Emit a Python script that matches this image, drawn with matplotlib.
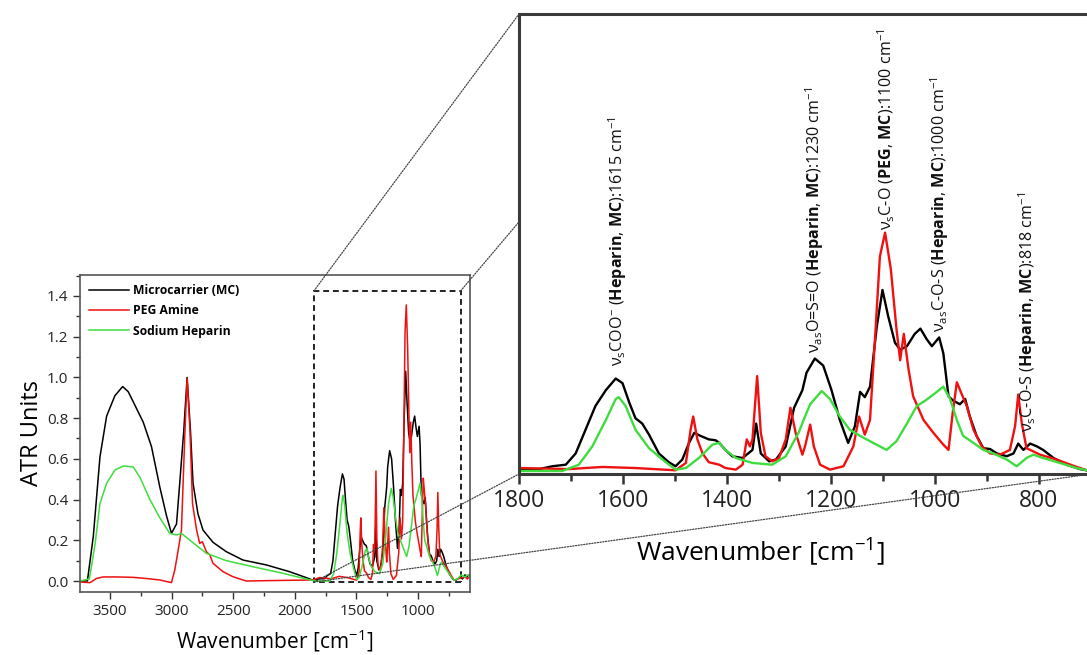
import numpy as np
import matplotlib
matplotlib.use("Agg")
import matplotlib.pyplot as plt
from matplotlib.patches import Rectangle, ConnectionPatch
from matplotlib.ticker import MultipleLocator, FormatStrFormatter

plt.rcParams['font.family'] = ['Open Sans', 'DejaVu Sans']
plt.rcParams['mathtext.fontset'] = 'custom'
plt.rcParams['mathtext.rm'] = 'Open Sans'
plt.rcParams['mathtext.bf'] = 'Open Sans:bold'
plt.rcParams['mathtext.it'] = 'Open Sans:italic'
plt.rcParams['mathtext.default'] = 'regular'

# Microcarrier (MC) spectrum
mc_wn = [3745, 3683, 3635, 3581, 3527, 3460, 3397, 3352, 3311, 3230, 3163, 3095, 3041, 3001,
         2960, 2934, 2901, 2874, 2847, 2826, 2786, 2745, 2664, 2556, 2421, 2232, 2044, 1900,
         1850, 1800, 1761, 1736, 1710, 1691, 1672, 1653, 1633, 1614, 1601, 1588, 1576, 1563,
         1550, 1531, 1512, 1499, 1486, 1473, 1463, 1451, 1435, 1422, 1415, 1403, 1390, 1370,
         1351, 1344, 1335, 1319, 1306, 1287, 1271, 1255, 1247, 1231, 1215, 1199, 1183, 1167,
         1154, 1144, 1135, 1125, 1112, 1101, 1090, 1077, 1067, 1054, 1039, 1028, 1016, 1006,
         992, 984, 974, 965, 952, 942, 933, 920, 907, 894, 881, 862, 849, 840, 830, 817, 804,
         792, 772, 747, 721, 708, 690, 660, 640, 620, 600, 585]
mc_abs = [0.0, 0.0, 0.22, 0.61, 0.81, 0.91, 0.955, 0.93, 0.88, 0.78, 0.66, 0.46, 0.32, 0.234,
          0.28, 0.48, 0.74, 1.0, 0.74, 0.48, 0.33, 0.25, 0.19, 0.144, 0.103, 0.079, 0.046, 0.015,
          0.003, 0.011, 0.011, 0.027, 0.036, 0.10, 0.235, 0.37, 0.46, 0.526, 0.50, 0.39, 0.30, 0.27,
          0.207, 0.10, 0.05, 0.027, 0.065, 0.16, 0.217, 0.20, 0.18, 0.175, 0.16, 0.12, 0.084, 0.074,
          0.12, 0.27, 0.10, 0.055, 0.065, 0.14, 0.36, 0.46, 0.56, 0.64, 0.60, 0.46, 0.29, 0.16,
          0.255, 0.45, 0.42, 0.48, 0.82, 1.03, 0.88, 0.73, 0.69, 0.71, 0.78, 0.81, 0.75, 0.71,
          0.76, 0.67, 0.425, 0.40, 0.38, 0.41, 0.31, 0.20, 0.13, 0.125, 0.10, 0.084, 0.10, 0.156,
          0.12, 0.156, 0.14, 0.12, 0.074, 0.036, 0.011, 0.004, 0.005, 0.02, 0.01, 0.03, 0.02, 0.03]

# PEG Amine spectrum
peg_wn = [3745, 3662, 3608, 3554, 3450, 3311, 3200, 3095, 3001, 2974, 2947, 2920, 2893, 2874,
          2851, 2830, 2797, 2772, 2750, 2718, 2690, 2664, 2583, 2502, 2394, 2100, 1855, 1800,
          1704, 1640, 1576, 1499, 1479, 1470, 1465, 1457, 1447, 1435, 1415, 1403, 1383, 1370,
          1362, 1356, 1351, 1342, 1335, 1326, 1313, 1300, 1287, 1278, 1268, 1255, 1250, 1240,
          1233, 1221, 1202, 1176, 1157, 1146, 1135, 1125, 1115, 1106, 1096, 1085, 1074, 1067,
          1060, 1051, 1042, 1022, 1003, 984, 974, 966, 958, 949, 939, 926, 910, 894, 875, 856,
          846, 840, 833, 824, 798, 766, 734, 708, 680, 650, 620, 600, 585]
peg_abs = [-0.005, -0.008, 0.013, 0.02, 0.02, 0.018, 0.012, 0.005, -0.008, 0.054, 0.15, 0.25,
           0.71, 0.995, 0.74, 0.38, 0.25, 0.185, 0.193, 0.144, 0.128, 0.087, 0.046, 0.021, 0.0,
           0.003, 0.005, 0.017, 0.011, 0.023, 0.017, 0.004, 0.046, 0.235, 0.31, 0.18, 0.10, 0.05,
           0.036, 0.017, 0.008, 0.036, 0.18, 0.14, 0.18, 0.54, 0.217, 0.084, 0.055, 0.074, 0.18,
           0.36, 0.217, 0.093, 0.14, 0.264, 0.14, 0.036, 0.008, 0.027, 0.14, 0.31, 0.207, 0.29,
           0.77, 1.22, 1.356, 1.15, 0.805, 0.63, 0.78, 0.58, 0.425, 0.29, 0.217, 0.15, 0.12, 0.33,
           0.505, 0.44, 0.37, 0.235, 0.14, 0.10, 0.093, 0.12, 0.255, 0.435, 0.27, 0.13, 0.093,
           0.065, 0.03, 0.004, 0.01, 0.015, 0.02, 0.01, 0.02]

# Sodium Heparin spectrum
hep_wn = [3745, 3667, 3621, 3581, 3527, 3460, 3392, 3311, 3257, 3176, 3095, 3015, 2960, 2920,
          2851, 2718, 2556, 2340, 2098, 1855, 1800, 1717, 1685, 1659, 1633, 1614, 1608, 1595,
          1576, 1550, 1524, 1499, 1479, 1454, 1428, 1415, 1403, 1383, 1351, 1313, 1287, 1262,
          1250, 1240, 1218, 1202, 1183, 1164, 1144, 1119, 1093, 1074, 1054, 1035, 1019, 1003,
          984, 971, 958, 946, 926, 907, 888, 862, 843, 824, 811, 792, 760, 728, 708, 680, 650,
          620, 600, 585]
hep_abs = [0.0, 0.01, 0.18, 0.38, 0.48, 0.545, 0.565, 0.56, 0.51, 0.40, 0.31, 0.234, 0.226,
           0.234, 0.20, 0.136, 0.10, 0.07, 0.038, 0.002, 0.0, 0.0, 0.036, 0.14, 0.29, 0.41, 0.42,
           0.37, 0.235, 0.13, 0.065, 0.008, 0.017, 0.074, 0.15, 0.16, 0.12, 0.074, 0.046, 0.036,
           0.084, 0.22, 0.31, 0.38, 0.455, 0.41, 0.31, 0.235, 0.20, 0.16, 0.12, 0.17, 0.27, 0.37,
           0.40, 0.435, 0.48, 0.41, 0.29, 0.20, 0.16, 0.12, 0.10, 0.065, 0.027, 0.074, 0.093,
           0.074, 0.046, 0.017, 0.004, 0.01, 0.03, 0.02, 0.03, 0.02]

series_names = ["Microcarrier (MC)", "PEG Amine", "Sodium Heparin"]
series_colors = ["#000000", "#f01010", "#3fdc3f"]

# peak annotations in the zoomed panel: (text, wavenumber, height)
notes = [
    (r"$\nu_{s}$COO$^{-}$ ($\mathbf{Heparin}$, $\mathbf{MC}$):1615 cm$^{-1}$", 1611, 0.60),
    (r"$\nu_{as}$O=S=O ($\mathbf{Heparin}$, $\mathbf{MC}$):1230 cm$^{-1}$", 1231, 0.67),
    (r"$\nu_{s}$C-O ($\mathbf{PEG}$, $\mathbf{MC}$):1100 cm$^{-1}$", 1094, 1.37),
    (r"$\nu_{as}$C-O-S ($\mathbf{Heparin}$, $\mathbf{MC}$):1000 cm$^{-1}$", 992, 0.79),
    (r"$\nu_{s}$C-O-S ($\mathbf{Heparin}$, $\mathbf{MC}$):818 cm$^{-1}$", 821, 0.22),
]

fig = plt.figure(figsize=(10.87, 6.55), dpi=100)
W, H = 1087, 655
ax = fig.add_axes([80 / W, (H - 592) / H, 390 / W, 317 / H])
axz = fig.add_axes([519 / W, (H - 474) / H, 572 / W, 460 / H])

data = [(mc_wn, mc_abs), (peg_wn, peg_abs), (hep_wn, hep_abs)]

# overview panel
for (wn, ab), name, col in zip(data, series_names, series_colors):
    ax.plot(wn, ab, color=col, lw=1.1, label=name)
ax.set_xlim(3743, 579)
ax.set_ylim(-0.054, 1.503)
ax.xaxis.set_major_locator(MultipleLocator(500))
ax.xaxis.set_minor_locator(MultipleLocator(250))
ax.yaxis.set_major_locator(MultipleLocator(0.2))
ax.yaxis.set_minor_locator(MultipleLocator(0.1))
ax.yaxis.set_major_formatter(FormatStrFormatter('%.1f'))
ax.tick_params(which='both', direction='out', colors='#333333', labelcolor='#222222')
ax.tick_params(which='major', length=5, width=1, labelsize=11)
ax.tick_params(which='minor', length=3, width=1)
for s in ax.spines.values():
    s.set_color('#555555')
    s.set_linewidth(1.2)
ax.set_xlabel("Wavenumber [cm$^{-1}$]", fontsize=15, labelpad=6)
ax.set_ylabel("ATR Units", fontsize=17, labelpad=2)
ax.legend(loc='upper left', bbox_to_anchor=(0.0, 1.0), frameon=False,
          prop={'weight': 'bold', 'size': 8.7}, handlelength=3.3, handletextpad=0.3,
          labelspacing=0.6, borderaxespad=0.35)
ax.add_patch(Rectangle((655, -0.005), 1845 - 655, 1.43, fill=False, ec='#222222',
                       lw=1.4, ls=(0, (3, 2))))

# zoomed panel
for (wn, ab), col in zip(data, series_colors):
    axz.plot(wn, ab, color=col, lw=1.7)
axz.set_xlim(1800, 700)
axz.set_ylim(-0.017, 2.6)
axz.set_yticks([])
axz.xaxis.set_major_locator(MultipleLocator(200))
axz.xaxis.set_minor_locator(MultipleLocator(100))
axz.tick_params(which='both', direction='out', colors='#333333', labelcolor='#222222')
axz.tick_params(which='major', length=7, width=1.8, labelsize=16.5)
axz.tick_params(which='minor', length=5, width=1.8)
for s in axz.spines.values():
    s.set_color('#3a3a3a')
    s.set_linewidth(2.2)
axz.set_xlabel("Wavenumber [cm$^{-1}$]", fontsize=19)
axz.xaxis.set_label_coords(0.421, -0.135)
for txt, x, y in notes:
    axz.text(x, y, txt, rotation=90, ha='center', va='bottom', fontsize=11.6, color='#111111')

# dotted zoom connectors
conn = [((1845, 1.425), (0, 1)), ((655, 1.425), (0, 0.548)),
        ((1845, -0.005), (0, 0)), ((1845, -0.005), (1, 0))]
for a, b in conn:
    cp = ConnectionPatch(xyA=a, coordsA=ax.transData, xyB=b, coordsB=axz.transAxes,
                         color='#444444', lw=0.9, ls=(0, (1, 1.2)))
    fig.add_artist(cp)

fig.savefig("out.png", dpi=100)
